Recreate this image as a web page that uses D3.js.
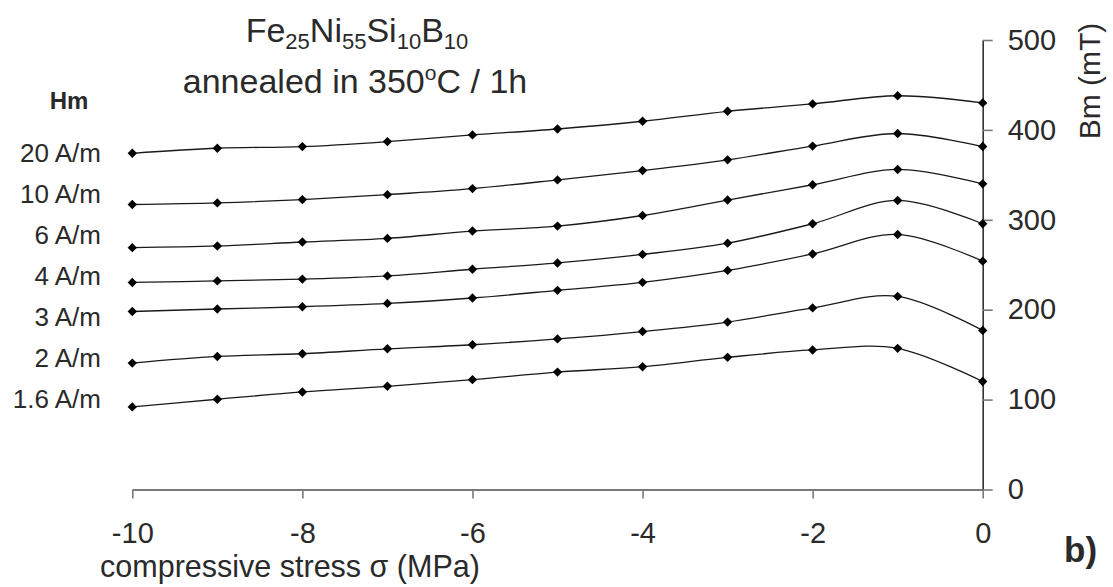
<!DOCTYPE html>
<html>
<head>
<meta charset="utf-8">
<script src="https://cdn.jsdelivr.net/npm/d3@7/dist/d3.min.js"></script>
<style>
  html, body { margin: 0; padding: 0; background: #fff; }
  svg { display: block; }
  text { font-family: "Liberation Sans", Arial, sans-serif; fill: #2a2a2a; }
</style>
</head>
<body>
<svg id="chart" width="1113" height="587"></svg>
<script>
// ---- data ----
const stress = [-10, -9, -8, -7, -6, -5, -4, -3, -2, -1, 0];
const seriesLabels = ["20 A/m", "10 A/m", "6 A/m", "4 A/m", "3 A/m", "2 A/m", "1.6 A/m"];
const bm20  = [374, 379.6, 381.4, 387, 394.4, 401, 409.6, 420.7, 428.9, 438, 430];
const bm10  = [317, 318.8, 322.5, 328, 334.7, 344.4, 354.8, 366.7, 382, 396, 381.5];
const bm6   = [269, 270.9, 275.3, 279.3, 287.5, 293, 304.8, 322, 339, 356, 340];
const bm4   = [230.3, 232, 234, 237.6, 245, 252, 261.5, 274, 295.6, 321.5, 295.6];
const bm3   = [198, 200.8, 203.3, 207, 213, 221.5, 230.4, 243.7, 262, 283.7, 254];
const bm2   = [140.6, 148, 151, 156.5, 161, 167.5, 175.7, 186.2, 202, 214.8, 177];
const bm1_6 = [91.9, 100.4, 108.5, 114.8, 122.2, 130.6, 136.6, 147, 155.2, 157, 120.1];
const xTicks = [-10, -8, -6, -4, -2, 0];
const yTicks = [0, 100, 200, 300, 400, 500];
const allSeries = [bm20, bm10, bm6, bm4, bm3, bm2, bm1_6];

// ---- layout ----
const svg = d3.select("#chart");
const x = d3.scaleLinear().domain([-10, 0]).range([132.3, 982.7]);
const y = d3.scaleLinear().domain([0, 500]).range([489.5, 40]);
const FONT = '"Liberation Sans", Arial, sans-serif';

// x axis
const gx = svg.append("g").attr("transform", `translate(0,${y(0)})`)
  .call(d3.axisBottom(x).tickValues(xTicks).tickSize(9).tickSizeOuter(0).tickPadding(0).tickFormat(d => d));
gx.select(".domain").attr("stroke", "#7a7a7a").attr("stroke-width", 2);
gx.selectAll(".tick line").attr("stroke", "#7a7a7a").attr("stroke-width", 1.6);
gx.selectAll(".tick text").attr("font-size", 29).attr("font-family", FONT)
  .attr("fill", "#2a2a2a").attr("dy", null).attr("y", 53).attr("dominant-baseline", "auto");

// right y axis
const gy = svg.append("g").attr("transform", `translate(${x(0)},0)`)
  .call(d3.axisRight(y).tickValues(yTicks).tickSize(10).tickSizeOuter(0).tickPadding(15));
gy.select(".domain").attr("stroke", "#333").attr("stroke-width", 1.6);
gy.selectAll(".tick line").attr("stroke", "#7a7a7a").attr("stroke-width", 1.6);
gy.selectAll(".tick text").attr("font-size", 29).attr("font-family", FONT).attr("fill", "#2a2a2a");

// lines
const line = d3.line()
  .x((d, i) => x(stress[i]))
  .y(d => y(d))
  .curve(d3.curveCardinal.tension(0));

const gLines = svg.append("g");
allSeries.forEach(vals => {
  gLines.append("path").attr("d", line(vals))
    .attr("fill", "none").attr("stroke", "#1a1a1a").attr("stroke-width", 1.3);
});

// markers (diamonds)
const sym = d3.symbol().type(d3.symbolSquare).size(44);
allSeries.forEach(vals => {
  gLines.selectAll(null).data(vals).enter().append("path")
    .attr("d", sym)
    .attr("transform", (d, i) => `translate(${x(stress[i])},${y(d)}) rotate(45)`)
    .attr("fill", "#000");
});

// series labels (Hm column)
svg.append("text").attr("x", 69).attr("y", 100).attr("text-anchor", "middle")
  .attr("dominant-baseline", "central").attr("font-size", 24).attr("font-weight", "bold").text("Hm");
seriesLabels.forEach((lab, i) => {
  svg.append("text").attr("x", 101).attr("y", 153 + i * 41)
    .attr("text-anchor", "end").attr("dominant-baseline", "central")
    .attr("font-size", 26).text(lab);
});

// title
const t1 = svg.append("text").attr("x", 357).attr("y", 42).attr("text-anchor", "middle").attr("font-size", 34);
[["Fe", false], ["25", true], ["Ni", false], ["55", true], ["Si", false], ["10", true], ["B", false], ["10", true]]
  .forEach(([s, sub], k, arr) => {
    const ts = t1.append("tspan").text(s);
    if (sub) { ts.attr("font-size", 22).attr("dy", 7); }
    else if (k > 0 && arr[k - 1][1]) { ts.attr("dy", -7); }
  });
const t2 = svg.append("text").attr("x", 355).attr("y", 93).attr("text-anchor", "middle").attr("font-size", 34);
t2.append("tspan").text("annealed in 350");
t2.append("tspan").attr("font-size", 21).attr("dy", -13).text("o");
t2.append("tspan").attr("dy", 13).text("C / 1h");

// axis titles
svg.append("text").attr("x", 290).attr("y", 577).attr("text-anchor", "middle")
  .attr("font-size", 30.5).text("compressive stress σ (MPa)");
svg.append("text").attr("transform", "translate(1100,81) rotate(-90)")
  .attr("text-anchor", "middle").attr("font-size", 30).text("Bm (mT)");

// panel label
svg.append("text").attr("x", 1064).attr("y", 562).attr("font-size", 35)
  .attr("font-weight", "bold").attr("fill", "#111").text("b)");
</script>
</body>
</html>
